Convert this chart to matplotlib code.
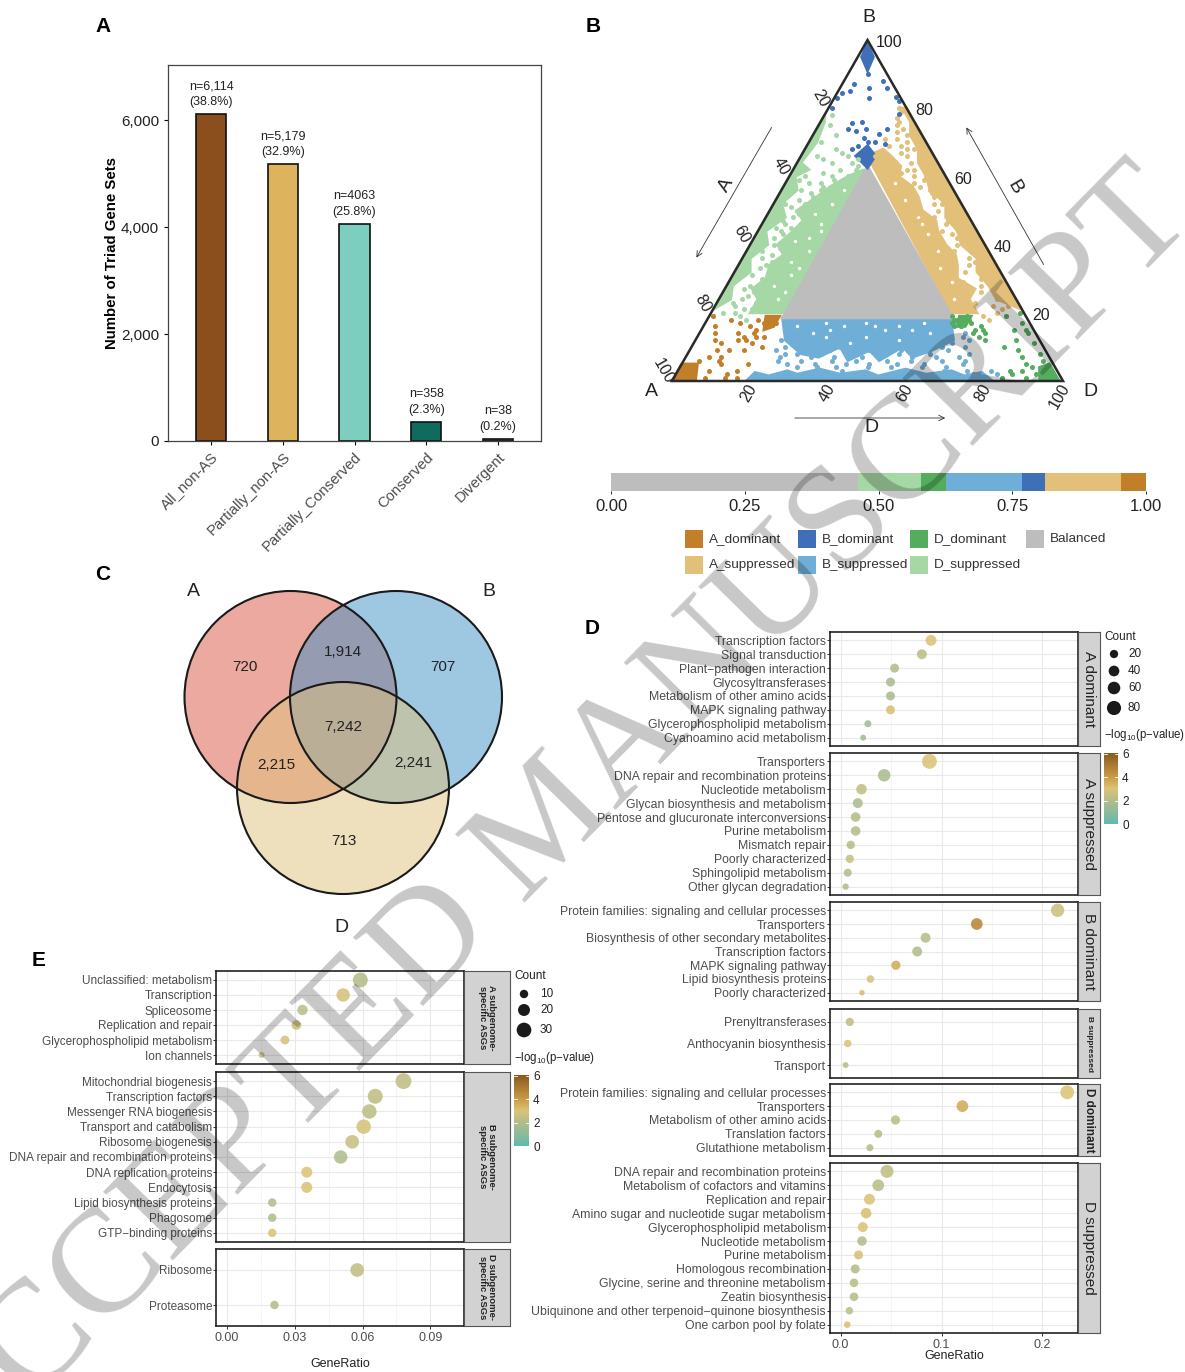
import numpy as np
import matplotlib
matplotlib.use("Agg")
import matplotlib.pyplot as plt
from matplotlib.colors import LinearSegmentedColormap
from matplotlib.patches import Circle, Polygon, Rectangle

plt.rcParams["font.family"] = ["Liberation Sans", "DejaVu Sans"]
plt.rcParams["mathtext.default"] = "regular"

W, H = 1185, 1372
fig = plt.figure(figsize=(W / 100, H / 100), dpi=100)


def px_axes(l, t, r, b, **kw):
    return fig.add_axes([l / W, 1 - b / H, (r - l) / W, (b - t) / H], **kw)


def px_text(x, y, s, **kw):
    kw.setdefault("ha", "center")
    kw.setdefault("va", "center")
    return fig.text(x / W, 1 - y / H, s, **kw)


# panel A data
bar_names = ["All_non-AS", "Partially_non-AS", "Partially_Conserved", "Conserved", "Divergent"]
bar_values = [6114, 5179, 4063, 358, 38]
bar_notes = ["n=6,114\n(38.8%)", "n=5,179\n(32.9%)", "n=4063\n(25.8%)", "n=358\n(2.3%)", "n=38\n(0.2%)"]
bar_colors = ["#8B4F1D", "#DDB35E", "#7CCFBE", "#0E6B5E", "#6E6E6E"]

# panel B data, classes in plotting order
class_names = ["Balanced", "D_suppressed", "D_dominant", "B_suppressed", "B_dominant", "A_suppressed", "A_dominant"]
class_share = [0.461, 0.119, 0.046, 0.142, 0.044, 0.142, 0.046]
class_colors = {
    "A_dominant": "#C27F2A", "B_dominant": "#3F6FB8", "D_dominant": "#53AD5C", "Balanced": "#BDBDBD",
    "A_suppressed": "#E2C07A", "B_suppressed": "#6FAED6", "D_suppressed": "#A6D8A6",
}

# dense areas as (B %, D %) corners
dense_areas = {
    "D_suppressed": [[(20, 19), (20, 10), (24, 10), (27, 7), (30, 9), (34, 8), (37, 10), (40, 7), (44, 9), (47, 10),
                      (50, 7), (54, 10), (57, 12), (60, 15), (62, 18)],
                     [(21, 0), (24, 3), (28, 1.5), (32, 4), (36, 2), (40, 4.5), (44, 2), (48, 5), (52, 2), (56, 4),
                      (60, 1.5), (62, 4), (64, 1), (70, 2), (76, 1), (78, 0)]],
    "A_suppressed": [[(20, 61.5), (20, 68), (24, 64), (27, 64), (30, 58), (34, 56), (37, 54), (40, 50), (44, 46),
                      (47, 44), (50, 39), (54, 36), (57, 33), (60, 28), (63, 27), (66, 23), (68, 20), (66, 17)],
                     [(21, 79), (24, 71), (28, 67), (32, 62), (36, 60), (40, 54), (44, 51), (48, 46), (52, 44),
                      (56, 38), (60, 35), (64, 31), (68, 29), (72, 25), (76, 23), (80, 19), (80, 20)]],
    "B_suppressed": [[(18.5, 19), (18.5, 62), (12, 66), (9, 62), (7, 58), (10, 54), (6, 50), (9, 46), (6, 42),
                      (10, 38), (7, 34), (8, 29), (10, 26), (12, 23)],
                     [(0, 19), (2.5, 20), (1.5, 24), (3, 28), (2, 31), (3.5, 36), (2, 42), (3, 48), (1.5, 52),
                      (3.5, 58), (2, 64), (3, 70), (1.5, 74), (2.5, 78), (0, 82)]],
    "Balanced": [[(18.5, 19), (18.5, 62.5), (63, 18.5)]],
    "A_dominant": [[(0, 0), (5, 0), (5, 4), (0, 6)], [(19, 14.5), (19, 18), (16, 18), (15, 16)]],
    "B_dominant": [[(99, 0.5), (95, 1), (91, 4.5), (95, 4)], [(69, 15.5), (66, 14), (62.5, 18.75), (66, 19)]],
    "D_dominant": [[(0, 94), (4, 92), (5, 94), (0, 99)], [(19, 64), (19, 67), (16, 67), (16, 65)]],
}
# gaps left inside the dense areas, (B %, D %)
gap_pts = [(24, 60), (29, 57), (33, 52), (38, 49), (43, 44), (48, 39), (53, 33), (58, 28), (36, 56), (46, 41),
           (24, 15), (28, 12), (31, 15), (35, 13), (38, 16), (42, 14), (46, 15), (49, 12), (52, 15), (56, 16),
           (26, 16), (33, 16), (41, 11), (44, 16), (16, 24), (17, 31), (14, 29), (16, 36), (13, 43), (17, 41),
           (15, 47), (12, 52), (16, 50), (17, 56), (14, 59), (13, 33), (15, 54), (16, 44), (11, 40), (15, 33)]
# single scattered points as (B %, D %)
tan_pts = [(76, 20), (74, 22), (72, 24), (70, 25), (68, 26), (66, 27), (64, 29), (62, 31), (60, 32), (58, 33),
           (56, 38), (54, 40), (52, 41), (50, 43), (48, 43), (46, 47), (44, 47), (42, 52), (40, 53), (38, 53),
           (36, 58), (34, 59), (32, 59), (30, 64), (28, 65), (26, 66), (24, 71), (22, 71), (21, 74), (66, 19),
           (65, 22), (63, 26), (60, 26), (58, 30), (61, 28), (57, 35), (55, 31), (53, 36), (49, 38), (45, 42),
           (41, 48), (37, 49), (33, 54), (29, 60), (25, 62), (23, 66), (20, 73), (19, 70), (18, 72), (19, 76),
           (80, 18), (79, 19), (77, 19), (75, 20), (73, 21), (71, 22), (69, 24), (67, 25), (69, 21), (71, 19),
           (62, 29), (59, 35), (55, 39), (51, 45), (47, 47), (43, 50), (39, 56), (35, 60), (31, 65), (27, 69),
           (26, 72), (22, 75), (44, 52), (52, 43), (60, 35), (68, 28)]
green_pts = [(78, 2), (75, 3), (72, 6), (70, 3), (68, 8), (66, 12), (64, 14), (63, 16), (62, 12), (60, 15),
             (58, 9), (60, 4), (58, 6), (56, 5), (55, 8), (54, 9), (53, 6), (51, 5), (50, 7), (48, 7),
             (47, 5), (46, 6), (44, 6), (43, 7), (42, 5), (40, 6), (39, 8), (37, 7), (36, 5), (34, 7),
             (33, 6), (31, 5), (30, 8), (28, 6), (27, 5), (25, 7), (24, 6), (22, 5), (21, 8), (20, 6),
             (67, 10), (65, 6), (64, 9), (61, 8), (59, 12), (57, 10), (56, 10), (52, 8), (26, 8), (32, 9),
             (38, 4), (45, 4), (52, 3), (59, 3), (66, 4), (19, 1), (20, 3), (23, 4), (65, 15), (62, 16),
             (60, 11), (49, 8), (45, 8), (41, 8), (35, 8), (29, 9), (23, 10), (21, 10), (19, 8), (18, 10)]
blue_pts = [(9, 22), (8, 28), (7, 24), (6, 30), (5, 27), (4, 35), (8, 34), (6, 38), (9, 40), (5, 42),
            (7, 45), (4, 48), (8, 48), (6, 52), (9, 54), (5, 55), (3, 58), (7, 58), (8, 62), (5, 62),
            (6, 66), (9, 66), (4, 68), (7, 70), (10, 70), (3, 74), (5, 72), (8, 72), (10, 24), (10, 32),
            (10, 38), (10, 44), (10, 50), (10, 58), (10, 64), (9, 30), (9, 36), (9, 46), (8, 42), (8, 54),
            (7, 32), (7, 38), (7, 50), (7, 64), (6, 24), (6, 44), (6, 58), (6, 72), (4, 30), (4, 40),
            (4, 54), (4, 62), (5, 34), (5, 48), (3, 42), (3, 68), (12, 70), (14, 68), (16, 66), (17, 64),
            (12, 22), (11, 26), (8, 25), (11, 36), (11, 48), (11, 60), (11, 66), (13, 68), (3, 80), (2, 82),
            (1, 84), (2, 76)]
orange_pts = [(19, 1), (16, 3), (14, 4), (12, 5), (18, 6), (17, 9), (16, 12), (18, 13), (17, 15), (15, 14),
              (14, 14), (14, 10), (12, 11), (12, 13), (11, 15), (9, 14), (9, 10), (11, 7), (7, 9), (6, 9),
              (5, 10), (9, 7), (6, 4), (3, 8), (2, 13), (1, 16), (1, 13), (3, 15), (5, 17), (10, 18),
              (13, 17), (17, 18), (1, 8), (7, 6), (13, 12), (13, 15)]
navy_pts = [(87, 3), (86, 7.5), (88, 10), (86, 12), (84.5, 1.3), (83, 0.6), (83.4, 15.7), (80, 1), (83, 9),
            (75.6, 8.2), (76, 10.5), (74, 12.5), (73.4, 10.3), (74, 18), (78.4, 18.8), (71.2, 13.4), (70, 15),
            (69.5, 19.8), (68, 12), (72.3, 16.9), (74, 8), (82, 17), (90, 5), (85, 3), (70, 17), (69, 13)]
dark_green_pts = [(20, 79), (19, 76), (15, 80), (14, 84), (12, 82), (10, 80), (9, 84), (7, 86), (5, 88), (3, 88),
                  (2, 86), (1, 84), (2, 92), (4, 90), (11, 87), (8, 90), (15, 83), (17, 81), (6, 92), (3, 85),
                  (1, 90), (18, 64), (19, 66), (17, 65), (16, 66), (18, 67), (17, 68), (15, 70), (14, 70),
                  (16, 71), (13, 72), (14, 73), (12, 74), (19, 62), (18, 63), (17, 63), (16, 64), (15, 72)]
scatter_pts = {"A_suppressed": tan_pts, "D_suppressed": green_pts, "B_suppressed": blue_pts,
               "A_dominant": orange_pts, "B_dominant": navy_pts, "D_dominant": dark_green_pts}
ternary_ticks = [20, 40, 60, 80, 100]

# panel C data
venn_sets = ["A", "B", "D"]
venn_counts = ["720", "1,914", "707", "7,242", "2,215", "2,241", "713"]

# panel D data, one list per facet
d_facets = ["A dominant", "A suppressed", "B dominant", "B suppressed", "D dominant", "D suppressed"]
d_terms = [
    ["Transcription factors", "Signal transduction", "Plant\u2212pathogen interaction", "Glycosyltransferases",
     "Metabolism of other amino acids", "MAPK signaling pathway", "Glycerophospholipid metabolism",
     "Cyanoamino acid metabolism"],
    ["Transporters", "DNA repair and recombination proteins", "Nucleotide metabolism",
     "Glycan biosynthesis and metabolism", "Pentose and glucuronate interconversions", "Purine metabolism",
     "Mismatch repair", "Poorly characterized", "Sphingolipid metabolism", "Other glycan degradation"],
    ["Protein families: signaling and cellular processes", "Transporters",
     "Biosynthesis of other secondary metabolites", "Transcription factors", "MAPK signaling pathway",
     "Lipid biosynthesis proteins", "Poorly characterized"],
    ["Prenyltransferases", "Anthocyanin biosynthesis", "Transport"],
    ["Protein families: signaling and cellular processes", "Transporters", "Metabolism of other amino acids",
     "Translation factors", "Glutathione metabolism"],
    ["DNA repair and recombination proteins", "Metabolism of cofactors and vitamins", "Replication and repair",
     "Amino sugar and nucleotide sugar metabolism", "Glycerophospholipid metabolism", "Nucleotide metabolism",
     "Purine metabolism", "Homologous recombination", "Glycine, serine and threonine metabolism",
     "Zeatin biosynthesis", "Ubiquinone and other terpenoid\u2212quinone biosynthesis", "One carbon pool by folate"],
]
d_ratio = [
    [.0896, .0805, .0535, .0494, .0494, .0494, .027, .0224],
    [.088, .0432, .0207, .017, .0149, .0149, .01, .0091, .0071, .005],
    [.215, .1349, .0842, .0759, .0548, .0295, .0212],
    [.0091, .0071, .005],
    [.2245, .1207, .0544, .0373, .029],
    [.046, .0373, .0286, .0253, .022, .0212, .0178, .0145, .0133, .0133, .0087, .0066],
]
d_count = [
    [42, 33, 25, 25, 25, 25, 12, 7],
    [90, 59, 38, 33, 30, 30, 20, 20, 18, 9],
    [70, 50, 33, 33, 27, 15, 5],
    [20, 15, 7],
    [75, 50, 27, 18, 12],
    [65, 50, 42, 38, 33, 29, 25, 25, 22, 22, 15, 10],
]
d_logp = [
    [3.0, 2.2, 2.0, 1.8, 1.8, 2.9, 1.5, 1.5],
    [3.0, 1.8, 2.4, 1.8, 2.0, 2.0, 2.0, 2.5, 2.0, 2.0],
    [2.6, 4.6, 2.1, 1.9, 3.6, 2.9, 3.2],
    [2.3, 3.0, 2.2],
    [3.0, 3.6, 2.2, 2.0, 2.0],
    [2.3, 2.2, 3.0, 3.1, 3.0, 2.0, 3.1, 2.0, 2.1, 2.1, 2.2, 3.1],
]

# panel E data
e_facets = ["A subgenome-\nspecific ASGs", "B subgenome-\nspecific ASGs", "D subgenome-\nspecific ASGs"]
e_terms = [
    ["Unclassified: metabolism", "Transcription", "Spliceosome", "Replication and repair",
     "Glycerophospholipid metabolism", "Ion channels"],
    ["Mitochondrial biogenesis", "Transcription factors", "Messenger RNA biogenesis", "Transport and catabolism",
     "Ribosome biogenesis", "DNA repair and recombination proteins", "DNA replication proteins", "Endocytosis",
     "Lipid biosynthesis proteins", "Phagosome", "GTP\u2212binding proteins"],
    ["Ribosome", "Proteasome"],
]
e_ratio = [
    [.059, .0514, .0334, .0307, .0256, .0153],
    [.0781, .0656, .063, .0605, .0554, .0503, .0353, .0353, .02, .02, .02],
    [.0576, .021],
]
e_count = [
    [31, 25, 15, 13, 11, 5],
    [35, 31, 29, 29, 26, 25, 17, 17, 10, 10, 10],
    [26, 10],
]
e_logp = [
    [2.0, 2.8, 2.2, 2.6, 2.9, 2.5],
    [2.3, 2.3, 2.2, 2.8, 2.5, 1.9, 3.0, 3.0, 2.0, 1.9, 3.0],
    [2.4, 2.0],
]

logp_cmap = LinearSegmentedColormap.from_list(
    "logp", [(0, "#5DBCAF"), (1 / 6, "#8FBA9C"), (2 / 6, "#B3BD8A"), (3 / 6, "#DCC377"),
             (4 / 6, "#C99B45"), (1, "#8A5A20")])
GREY = "#4d4d4d"

# ---------- A ----------
ax = px_axes(168, 65, 541, 441)
ax.bar(range(5), bar_values, width=0.42, color=bar_colors, edgecolor="#111111", linewidth=1.2)
for i, (v, note) in enumerate(zip(bar_values, bar_notes)):
    ax.text(i, v + 115, note, ha="center", va="bottom", fontsize=9, linespacing=1.42, color="#222222")
ax.set_xlim(-0.6, 4.6)
ax.set_ylim(0, 7030)
ax.set_yticks([0, 2000, 4000, 6000])
ax.set_yticklabels(["0", "2,000", "4,000", "6,000"], fontsize=11, color="#222222")
ax.set_xticks(range(5))
ax.set_xticklabels(bar_names, rotation=45, ha="right", rotation_mode="anchor", fontsize=10.7, color=GREY)
ax.set_ylabel("Number of Triad Gene Sets", fontsize=10.8, fontweight="bold", labelpad=1)
ax.tick_params(length=3, width=0.8)
for s in ax.spines.values():
    s.set_linewidth(0.9)
    s.set_color("#444444")
px_text(103, 26, "A", fontsize=15, fontweight="bold")


# ---------- B ----------
def to_xy(b, d):
    return d / 100 + b / 200, b / 100


ax = px_axes(672, 40, 1063, 381)
ax.set_xlim(0, 1)
ax.set_ylim(0, 1)
ax.axis("off")
for name, polys in dense_areas.items():
    for poly in polys:
        ax.add_patch(Polygon([to_xy(b, d) for b, d in poly], closed=True, facecolor=class_colors[name],
                             edgecolor=class_colors[name], linewidth=2, zorder=2))
gap_xy = np.array([to_xy(b, d) for b, d in gap_pts])
ax.scatter(gap_xy[:, 0], gap_xy[:, 1], s=6, color="white", linewidths=0, zorder=2.5)
for name, pts in scatter_pts.items():
    xy = np.array([to_xy(b, d) for b, d in pts])
    ax.scatter(xy[:, 0], xy[:, 1], s=13, color=class_colors[name], linewidths=0, zorder=3, clip_on=False)
ax.add_patch(Polygon([(0, 0), (1, 0), (0.5, 1)], closed=True, fill=False, edgecolor="#2a2a2a", linewidth=1.8,
                     zorder=4, clip_on=False))
for t in ternary_ticks:
    ax.annotate(str(t), to_xy(t, 100 - t), xytext=(6, -2), textcoords="offset points", ha="left", va="center",
                fontsize=11.5, color="#222222")
    ax.annotate(str(t), to_xy(100 - t, 0), xytext=(-6, 7), textcoords="offset points", ha="center", va="center",
                fontsize=11.5, rotation=-60, rotation_mode="anchor", color="#222222")
    ax.annotate(str(t), to_xy(0, t), xytext=(2, -3), textcoords="offset points", ha="right", va="center",
                fontsize=11.5, rotation=60, rotation_mode="anchor", color="#222222")
px_text(651, 392, "A", fontsize=14, color="#222222")
px_text(869, 17, "B", fontsize=14, color="#222222")
px_text(1090, 392, "D", fontsize=14, color="#222222")
px_text(726, 185, "A", fontsize=14, rotation=60, color="#222222")
px_text(1015, 187, "B", fontsize=14, rotation=-60, color="#222222")
px_text(871, 428, "D", fontsize=14, color="#222222")
overlay = px_axes(0, 0, W, H, zorder=5)
overlay.set_xlim(0, W)
overlay.set_ylim(H, 0)
overlay.axis("off")
overlay.patch.set_alpha(0)
for start, end in [((773, 125), (695, 260)), ((1045, 267), (965, 125)), ((792, 418), (948, 418))]:
    overlay.annotate("", xy=end, xytext=start, arrowprops=dict(arrowstyle="->", lw=0.6, color="#333333"))
px_text(593, 26, "B", fontsize=15, fontweight="bold")

# share bar
ax = px_axes(611, 473, 1146, 491)
left = 0
for name, share in zip(class_names, class_share):
    ax.barh(0, share, left=left, height=1, color=class_colors[name], linewidth=0)
    left += share
ax.set_xlim(0, 1)
ax.set_ylim(-0.5, 0.5)
ax.set_yticks([])
ax.set_xticks([0, 0.25, 0.5, 0.75, 1])
ax.set_xticklabels(["0.00", "0.25", "0.50", "0.75", "1.00"], fontsize=12, color="#222222")
ax.tick_params(length=2.5, width=0.6, pad=3)
for s in ax.spines.values():
    s.set_visible(False)

legend_layout = [("A_dominant", 685, 539), ("B_dominant", 798, 539), ("D_dominant", 910, 539), ("Balanced", 1026, 539),
                 ("A_suppressed", 685, 565), ("B_suppressed", 798, 565), ("D_suppressed", 910, 565)]
for name, x, y in legend_layout:
    fig.add_artist(Rectangle((x / W, 1 - (y + 9) / H), 18 / W, 18 / H, transform=fig.transFigure,
                             facecolor=class_colors[name], edgecolor="none"))
    px_text(x + 24, y, name, ha="left", fontsize=9.7, color="#333333")

# ---------- C ----------
ax = px_axes(170, 580, 520, 925)
ax.set_xlim(170, 520)
ax.set_ylim(925, 580)
ax.set_aspect("equal")
ax.axis("off")
venn_circles = [((290.5, 697), "#DB5541"), ((396, 697), "#3F91C5"), ((343, 788), "#DFC17D")]
for (cx, cy), c in venn_circles:
    ax.add_patch(Circle((cx, cy), 106, facecolor=c, alpha=0.5, edgecolor="none"))
for (cx, cy), c in venn_circles:
    ax.add_patch(Circle((cx, cy), 106, fill=False, edgecolor="#1a1a1a", linewidth=1.5))
for s, (x, y) in zip(venn_sets, [(193, 592), (489, 591), (341, 928)]):
    px_text(x, y, s, fontsize=14, color="#222222")
for s, (x, y) in zip(venn_counts, [(245, 667), (343, 652), (443, 667), (343, 727), (276, 765), (413, 763), (344, 841)]):
    px_text(x, y, s, fontsize=11, color="#222222")
px_text(103, 574, "C", fontsize=15, fontweight="bold")


# ---------- dot plots ----------
def dot_panel(box, strip_right, xlim, terms, ratio, count, logp, size_fn, facet, strip_kw, label_size, xticks=None,
              xfmt=None):
    ax = px_axes(*box)
    y = np.arange(len(terms))
    d = size_fn(np.array(count, float))
    ax.scatter(ratio, y, s=(d * 0.72) ** 2, c=logp, cmap=logp_cmap, vmin=0, vmax=6, alpha=0.88, linewidths=0,
               zorder=3)
    ax.set_xlim(*xlim)
    ax.set_ylim(len(terms) - 1 + 0.6, -0.6)
    ax.set_yticks(y)
    ax.set_yticklabels(terms, fontsize=label_size, color=GREY)
    ax.set_xticks(xticks)
    ax.set_xticks((np.array(xticks[:-1]) + np.array(xticks[1:])) / 2, minor=True)
    ax.tick_params(axis="y", length=2, width=0.7, color="#333333", pad=0.8)
    ax.tick_params(axis="x", which="minor", length=0)
    ax.grid(True, which="major", color="#e9e9e9", linewidth=0.8, zorder=0)
    ax.grid(True, which="minor", axis="x", color="#f2f2f2", linewidth=0.5, zorder=0)
    ax.set_axisbelow(True)
    if xfmt:
        ax.set_xticklabels([xfmt % v for v in xticks], fontsize=9, color=GREY)
        ax.tick_params(axis="x", which="major", length=2.5, width=0.7, color="#333333", pad=2)
    else:
        ax.tick_params(axis="x", which="major", length=0, labelbottom=False)
    for s in ax.spines.values():
        s.set_linewidth(1.2)
        s.set_color("#222222")
    l, t, r, b = box
    strip = px_axes(r, t, strip_right, b)
    strip.set_xticks([])
    strip.set_yticks([])
    strip.set_facecolor("#D2D2D2")
    for s in strip.spines.values():
        s.set_color("#555555")
        s.set_linewidth(0.8)
    strip.text(0.5, 0.5, facet, transform=strip.transAxes, rotation=-90, ha="center", va="center",
               color="#222222", **strip_kw)


def dot_size_d(c):
    return 2.5 + 1.3 * np.sqrt(c)


def dot_size_e(c):
    return 2.7 * np.sqrt(c) - 0.1


d_boxes = [(830, 632, 1078, 746), (830, 753, 1078, 895), (830, 902, 1078, 1001),
           (830, 1009, 1078, 1078), (830, 1084, 1078, 1156), (830, 1163, 1078, 1333)]
d_strip = [dict(fontsize=11), dict(fontsize=11), dict(fontsize=11),
           dict(fontsize=6, fontweight="bold"), dict(fontsize=8.5, fontweight="bold"), dict(fontsize=11)]
for i in range(6):
    last = i == 5
    dot_panel(d_boxes[i], 1100, (-0.0105, 0.2352), d_terms[i], d_ratio[i], d_count[i], d_logp[i], dot_size_d,
              d_facets[i], d_strip[i], 8.8, xticks=[0.0, 0.1, 0.2], xfmt="%.1f" if last else None)
px_text(954, 1356, "GeneRatio", fontsize=9, color="#222222")
px_text(592, 628, "D", fontsize=15, fontweight="bold")

e_boxes = [(216, 971, 464, 1064), (216, 1072, 464, 1242), (216, 1249, 464, 1326)]
for i in range(3):
    last = i == 2
    dot_panel(e_boxes[i], 510, (-0.0049, 0.1049), e_terms[i], e_ratio[i], e_count[i], e_logp[i], dot_size_e,
              e_facets[i], dict(fontsize=6.8, fontweight="bold", linespacing=1.0), 8.5,
              xticks=[0.0, 0.03, 0.06, 0.09], xfmt="%.2f" if last else None)
px_text(340, 1364, "GeneRatio", fontsize=9, color="#222222")
px_text(39, 960, "E", fontsize=15, fontweight="bold")


# legends of the dot plots
def dot_legend(x, title_y, counts, rows, size_fn, label_x, logp_y, bar_box):
    px_text(x, title_y, "Count", ha="left", fontsize=8.5, color="#222222")
    leg = px_axes(x, title_y + 8, x + 20, rows[-1] + 12)
    leg.set_xlim(x, x + 20)
    leg.set_ylim(rows[-1] + 12, title_y + 8)
    leg.axis("off")
    leg.scatter([x + 10] * len(counts), rows, s=(size_fn(np.array(counts, float)) * 0.72) ** 2, color="#1a1a1a",
                linewidths=0, clip_on=False)
    for c, y in zip(counts, rows):
        px_text(label_x, y, str(c), ha="left", fontsize=8.5, color="#222222")
    px_text(x, logp_y, "\u2212log$_{10}$(p\u2212value)", ha="left", fontsize=8.3, color="#222222")
    cb = px_axes(*bar_box)
    grad = np.linspace(6, 0, 128).reshape(-1, 1)
    cb.imshow(grad, aspect="auto", cmap=logp_cmap, vmin=0, vmax=6, extent=(0, 1, 0, 6))
    cb.set_xticks([])
    cb.yaxis.tick_right()
    cb.set_yticks([0, 2, 4, 6])
    cb.set_ylim(-0.15, 6.15)
    cb.tick_params(axis="y", length=0, labelsize=8.5, labelcolor="#222222", pad=3)
    for v in [0, 2, 4, 6]:
        cb.plot([0, 0.2], [v, v], color="white", lw=0.6)
        cb.plot([0.8, 1], [v, v], color="white", lw=0.6)
    cb.set_xlim(0, 1)
    for s in cb.spines.values():
        s.set_visible(False)


dot_legend(1104, 637, [20, 40, 60, 80], [654, 671, 688, 708], dot_size_d, 1128, 735, (1104, 752, 1118, 826))
dot_legend(514, 976, [10, 20, 30], [994, 1010, 1030], dot_size_e, 540, 1058, (514, 1074, 529, 1148))

# watermark
fig.text(551 / W, 1 - 826 / H, "ACCEPTED MANUSCRIPT", rotation=45.5, rotation_mode="anchor", ha="center", va="center",
         fontsize=107.5, color="black", alpha=0.22, family="Liberation Serif", zorder=20)

fig.savefig("out.png", dpi=100)
